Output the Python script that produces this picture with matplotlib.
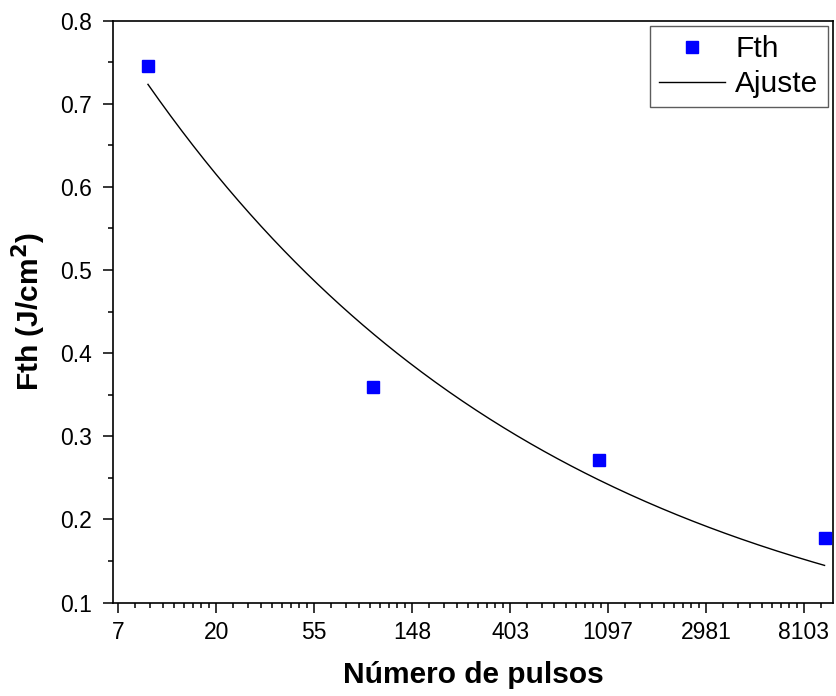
import numpy as np
import matplotlib
matplotlib.use("Agg")
import matplotlib.pyplot as plt
from matplotlib.ticker import FixedLocator, NullFormatter

plt.rcParams['font.family'] = ['Liberation Sans', 'DejaVu Sans']

# Data
pulses = [10, 100, 1000, 10000]
fth = [0.745, 0.359, 0.271, 0.178]

# Fit parameters: Fth(N) = F1 * N**(S-1)
fit_F1 = 1.237
fit_S = 0.767
fit_range = (10, 10000)

xtick_exps = [2, 3, 4, 5, 6, 7, 8, 9]
xtick_labels = ["7", "20", "55", "148", "403", "1097", "2981", "8103"]
yticks = [0.1, 0.2, 0.3, 0.4, 0.5, 0.6, 0.7, 0.8]

fig = plt.figure(figsize=(8.36, 6.96), dpi=100)
ax = fig.add_axes([0.1352, 0.1343, 0.9964 - 0.1352, 0.9703 - 0.1343])

nfit = np.exp(np.linspace(np.log(fit_range[0]), np.log(fit_range[1]), 300))
ax.plot(pulses, fth, 's', color='#0000ff', markersize=8.8, label='Fth', zorder=3)
ax.plot(nfit, fit_F1 * nfit ** (fit_S - 1), '-', color='black', lw=1.0, label='Ajuste')

ax.set_xscale('log', base=np.e)
ax.set_xlim(7, 10900)
ax.set_ylim(0.1, 0.8)

major = [np.exp(e) for e in xtick_exps]
ax.xaxis.set_major_locator(FixedLocator(major))
ax.set_xticklabels(xtick_labels)
minor = []
for e in range(1, 10):
    a, b = np.exp(e), np.exp(e + 1)
    for k in range(1, 9):
        minor.append(a + k * (b - a) / 9)
ax.xaxis.set_minor_locator(FixedLocator(minor))
ax.xaxis.set_minor_formatter(NullFormatter())

ax.set_yticks(yticks)
ax.set_yticklabels([f"{v:.1f}" for v in yticks])
ax.yaxis.set_minor_locator(FixedLocator(np.arange(0.15, 0.8, 0.1)))

ax.tick_params(which='major', direction='out', length=7.2, width=1.1, labelsize=16.5)
ax.tick_params(axis='x', which='major', pad=6)
ax.tick_params(axis='y', which='major', pad=8)
ax.tick_params(which='minor', direction='out', length=3.6, width=1.1)
ax.tick_params(top=False, right=False, which='both')
for s in ax.spines.values():
    s.set_linewidth(1.2)

ax.set_xlabel('Número de pulsos', fontsize=21.5, fontweight='bold', labelpad=12)
ax.set_ylabel('Fth (J/cm$^\\mathbf{2}$)', fontsize=21.5, fontweight='bold', labelpad=9)

leg = ax.legend(loc='upper right', fontsize=21.5, frameon=True, fancybox=False,
                edgecolor='#333333', borderaxespad=0.18, handlelength=2.2,
                borderpad=0.3, labelspacing=0.25, handletextpad=0.35)
leg.get_frame().set_linewidth(1.0)

fig.savefig('out.png', dpi=100)
